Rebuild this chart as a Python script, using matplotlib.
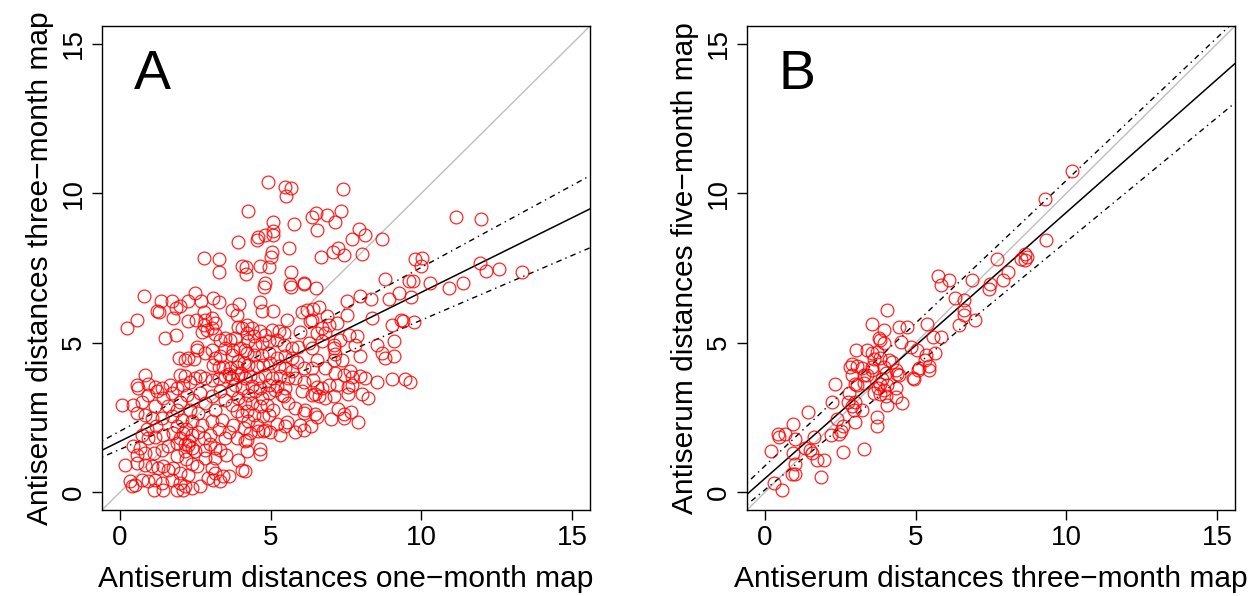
import matplotlib
matplotlib.use("Agg")
import matplotlib.pyplot as plt
import numpy as np

plt.rcParams['font.family'] = ['Liberation Sans', 'DejaVu Sans']

# ---------------- Panel A data (one-month vs three-month) ----------------
a_pts = [
    (4.26,9.42),(3.91,8.36),(2.78,7.85),(3.27,7.80),(3.30,7.36),(4.04,7.57),(4.18,7.53),(4.18,7.29),
    (4.91,10.39),(5.46,10.22),(5.68,10.19),(5.50,9.92),(7.39,10.13),(6.37,9.22),(6.50,9.35),(6.87,9.27),
    (7.14,9.05),(7.34,9.42),(5.07,9.05),(5.09,8.74),(5.78,8.97),(6.54,8.76),(4.57,8.55),(4.54,8.44),
    (4.82,8.59),(5.09,8.61),(7.92,8.81),(7.70,8.46),(8.12,8.59),(8.69,8.48),(5.61,8.18),(5.04,8.03),
    (5.02,7.88),(6.68,7.87),(7.07,8.03),(7.25,8.18),(7.45,7.94),(8.03,7.96),(4.63,7.57),(4.95,7.55),
    (5.68,7.35),(6.09,6.99),(4.82,6.99),(5.65,6.97),(8.78,7.13),
    (11.15,9.20),(11.99,9.14),(9.78,7.80),(10.02,7.85),(10.00,7.56),(11.96,7.66),(12.15,7.40),(12.57,7.47),
    (13.35,7.35),(9.58,7.05),(9.74,7.05),(10.30,6.99),(11.40,6.99),
    (10.93,6.82),(8.92,6.46),(9.27,6.66),(9.67,6.54),(9.03,5.60),(9.34,5.76),(9.38,5.71),(9.77,5.68),
    (9.08,5.07),(9.08,4.57),(8.80,4.48),(9.03,3.79),(9.45,3.79),(9.63,3.68),
    (7.09,3.20),(7.58,3.28),(8.03,3.28),(8.23,3.14),(7.25,2.78),(7.45,2.61),(7.45,2.47),(7.67,2.68),
    (7.90,2.36),(7.01,2.45),(6.53,2.50),(6.48,2.61),(6.35,2.20),(6.12,2.08),(5.81,2.01),(5.98,2.25),
    (5.54,2.36),(5.48,2.20),(5.21,2.27),(5.32,1.92),(4.93,2.59),(4.76,2.03),(4.98,2.01),(4.65,1.44),
    (4.65,1.27),(4.21,1.36),(6.59,3.20),(6.48,3.28),(6.37,3.25),(6.81,3.14),(6.04,3.39),(5.43,3.20),
    (5.59,2.98),(5.81,2.81),(6.09,2.64),(6.15,2.75),(4.87,2.92),(5.09,2.75),(4.15,0.69),
    (4.26,3.26),(4.48,3.37),(4.70,3.15),(4.93,3.31),(5.15,3.42),(5.37,3.26),(4.37,2.98),(4.65,2.87),
    (4.21,2.70),(4.43,2.59),(4.76,2.53),(4.26,2.37),(4.54,2.25),(4.81,2.09),(4.32,1.97),(4.59,2.03),(4.21,1.75),
    (0.81,6.55),(0.22,5.48),(0.55,5.76),(1.36,6.40),(1.72,6.38),(1.22,6.06),(1.30,6.04),(1.85,6.15),
    (2.00,6.24),(2.27,6.40),(2.49,6.66),(2.69,6.40),(1.77,5.82),(1.50,5.15),(1.85,5.26),(3.10,6.49),
    (3.27,6.35),(2.77,6.02),(2.25,5.71),(2.51,5.76),(2.82,5.76),(3.05,5.82),(3.16,5.65),(3.71,6.10),
    (3.88,5.93),(3.95,6.29),(3.93,5.54),(4.04,5.48),(2.77,5.60),(2.88,5.43),(2.71,5.37),(3.05,5.48),
    (3.16,5.28),(3.32,5.09),(3.49,5.15),(3.65,5.09),(3.82,5.15),(2.55,4.87),(2.55,4.76),(2.82,4.65),
    (3.05,4.76),(3.16,4.48),(3.32,4.54),(1.96,4.48),(2.16,4.42),(2.27,4.48),(2.44,4.46),(3.49,4.82),
    (3.76,4.76),(3.99,4.82),(4.15,4.76),(3.10,4.26),(3.27,4.17),(3.43,4.20),(3.65,4.15),(3.88,4.20),
    (4.10,4.31),(0.83,3.92),(0.55,3.57),(0.94,3.61),(1.16,3.53),(1.39,3.48),(1.66,3.57),(1.88,3.48),
    (2.10,3.59),(2.33,3.70),(2.49,3.81),(2.66,3.87),(1.99,3.92),(2.16,3.87),(2.82,3.81),(3.05,3.76),
    (3.27,3.81),(3.49,3.87),(3.71,3.81),(3.93,3.92),(4.15,3.81),
    (3.70,4.60),(3.90,4.40),(3.60,3.95),(4.00,4.00),(3.80,3.60),(4.05,3.50),(3.70,3.40),
    (4.79,6.88),(5.68,6.85),(6.09,6.96),(6.51,6.82),(4.65,6.35),(4.71,6.06),(5.09,6.06),(5.54,5.76),
    (6.04,6.04),(6.20,6.10),(6.42,6.13),(6.59,6.21),(6.31,5.71),(6.37,5.76),(6.87,5.91),(7.53,6.40),
    (7.97,6.55),(8.34,6.46),(8.36,5.82),(7.53,5.93),(7.20,5.65),(6.92,5.60),(6.70,5.48),(5.98,5.37),
    (6.53,5.32),(6.81,5.32),(6.70,5.04),(7.09,4.93),(7.31,5.09),(7.59,5.26),(7.86,5.21),(7.81,4.93),
    (6.26,4.98),(6.37,4.82),(7.09,4.82),(7.14,4.62),(8.53,4.93),(8.69,4.65),(6.53,4.42),(7.09,4.42),
    (7.37,4.42),(7.97,4.54),(6.09,4.15),(6.37,4.15),(6.81,4.15),(7.14,3.98),(7.42,3.92),(7.64,4.04),
    (7.70,3.84),(7.97,3.87),(8.14,3.81),(8.53,3.70),(7.20,3.59),(7.58,3.53),(7.70,3.59),(5.81,3.81),
    (6.09,3.70),(6.42,3.76),(6.53,3.53),(6.92,3.59),(6.70,3.48),
    (4.21,5.60),(4.37,5.49),(4.21,5.32),(4.43,5.21),(4.65,5.38),(4.82,5.27),(5.04,5.43),(5.26,5.38),
    (5.43,5.32),(4.26,5.04),(4.48,4.93),(4.70,4.99),(4.93,5.04),(5.20,5.10),(5.43,4.93),(5.70,4.82),
    (5.92,4.87),(4.21,4.65),(4.43,4.60),(4.70,4.60),(4.93,4.65),(5.20,4.48),(5.48,4.54),(5.70,4.48),
    (5.87,4.37),(4.26,4.26),(4.54,4.21),(4.76,4.26),(4.98,4.32),(5.26,4.21),(5.48,4.15),(5.70,4.04),
    (4.32,3.87),(4.59,3.82),(4.82,3.93),(5.04,3.82),(5.32,3.87),(5.59,3.82),(4.37,3.54),(4.65,3.48),
    (4.93,3.59),(5.20,3.54),(5.48,3.48),
    (0.05,2.92),(0.44,2.92),(0.72,3.03),(0.94,3.26),(1.22,3.37),(1.44,3.15),(1.71,3.31),(1.99,3.03),
    (2.21,3.26),(2.43,3.09),(2.66,3.31),(2.82,2.98),(3.04,3.20),(3.32,3.37),(3.49,3.09),(3.71,2.92),
    (3.93,3.15),(4.15,2.98),(0.61,3.48),(1.16,2.87),(1.60,2.87),(1.88,2.76),(2.32,2.76),(2.60,2.64),
    (3.15,2.76),(3.87,2.70),(4.04,2.59),
    (0.55,2.64),(0.83,2.59),(1.05,2.48),(1.38,2.48),(1.71,2.53),(2.05,2.42),(2.38,2.37),(2.71,2.25),
    (3.04,2.37),(3.38,2.42),(3.76,2.25),(4.10,2.14),(0.72,1.92),(0.94,1.81),(1.16,1.86),(1.44,1.92),
    (1.77,1.97),(2.10,1.97),(2.27,1.58),(2.38,1.47),(2.16,1.36),(2.49,1.36),(2.82,1.42),(3.15,1.47),
    (3.32,1.42),(3.49,1.81),(3.87,1.81),(4.15,1.70),(0.44,1.53),(0.66,1.47),(0.55,1.25),(0.83,1.31),
    (1.11,1.31),(1.38,1.42),(1.60,1.53),(1.88,1.64),(2.77,1.81),(2.99,1.92),
    (0.16,0.92),(0.55,0.97),(0.83,0.92),(1.05,0.86),(1.27,0.80),(1.44,0.86),(1.60,0.75),(1.77,0.80),
    (1.99,0.64),(2.27,0.58),(2.55,0.86),(3.04,0.80),(3.15,0.64),(3.43,0.53),(3.60,0.53),(2.82,1.14),
    (3.15,1.14),(3.93,1.08),(4.04,0.75),(0.33,0.36),(0.50,0.25),(0.72,0.41),(0.94,0.36),(1.16,0.41),
    (1.38,0.30),(1.71,0.41),(1.99,0.30),(2.16,0.19),(2.38,0.14),(2.66,0.19),(2.93,0.47),(3.10,0.41),
    (3.32,0.36),(1.11,0.08),(1.44,0.08),(1.88,0.08),(2.10,0.08),(0.39,0.19),
    (1.90,2.20),(2.20,2.10),(2.40,1.90),(2.00,1.80),(2.60,2.00),(3.30,2.10),(3.60,2.00),(3.00,1.60),
    (2.20,1.10),(1.90,1.20),(2.40,0.95),(3.50,1.25),(1.20,2.20),(0.90,2.10),(2.30,1.70),(2.15,1.60),
]
a_x = [p[0] for p in a_pts]
a_y = [p[1] for p in a_pts]

# regression and confidence lines (intercept, slope)
a_fit = (1.70, 0.4986)
a_upper = (2.04, 0.548)
a_lower = (1.43, 0.4325)

# ---------------- Panel B data (three-month vs five-month) ----------------
b_pts = [
    (2.33,3.61),(1.44,2.69),(0.94,2.27),(0.44,1.94),(0.47,1.83),(0.67,1.96),(0.98,1.79),(0.20,1.38),
    (0.92,1.32),(1.00,0.94),(0.89,0.62),(0.98,0.59),(0.28,0.31),(0.56,0.07),(1.61,1.85),(1.33,1.46),
    (1.48,1.41),(1.56,1.32),(1.72,1.07),(1.94,1.09),(1.87,0.51),(2.58,1.33),(3.28,1.44),(2.20,1.91),
    (2.44,1.94),(2.58,2.21),(2.53,2.05),(2.39,2.46),(2.98,2.35),(3.72,2.52),(3.72,2.22),(2.22,3.02),
    (2.80,3.32),(2.76,3.02),(2.89,2.88),(2.94,2.76),(3.00,3.02),(3.22,2.74),(2.89,3.91),(3.00,3.63),
    (3.06,3.58),(3.28,3.66),(3.39,3.91),(3.56,4.08),(3.61,3.32),(3.76,3.47),(3.83,3.28),(3.94,3.41),
    (4.06,3.58),(4.00,3.21),(3.89,3.77),(3.80,3.63),(4.06,2.91),(4.33,3.50),(4.33,3.19),(4.56,2.99),
    (4.39,3.95),(4.94,3.80),(5.09,4.08),(5.44,4.08),
    (5.74,7.22),(6.11,7.11),(5.83,6.92),(6.87,7.09),(7.48,6.98),(7.44,6.81),(7.89,7.11),(8.06,7.37),
    (4.06,6.09),(3.56,5.64),(3.94,5.42),(3.78,5.17),(3.83,5.08),(3.94,4.99),(4.44,5.51),(4.70,5.53),
    (5.39,5.62),(6.30,6.51),(6.59,6.42),(6.61,6.09),(6.59,5.92),(6.97,5.75),(6.44,5.59),(5.56,5.20),
    (5.83,5.20),(4.52,5.03),(4.83,4.84),(5.03,4.77),(5.33,4.58),(5.63,4.66),(5.30,4.42),(5.44,4.21),
    (5.11,4.14),(3.03,4.75),(3.39,4.75),(3.56,4.64),(3.72,4.69),(3.83,4.50),(3.61,4.44),(4.11,4.42),
    (4.22,4.36),(2.89,4.30),(3.06,4.21),(2.83,4.17),(3.22,4.14),(3.56,4.19),(3.94,4.19),(4.00,3.97),
    (4.33,4.08),(4.44,3.91),(4.92,3.83),(3.28,3.91),
    (10.19,10.74),(9.28,9.82),(9.31,8.45),(7.70,7.81),(8.50,7.81),(8.63,7.96),(8.63,7.76),(8.70,7.87),
]
b_x = [p[0] for p in b_pts]
b_y = [p[1] for p in b_pts]

b_fit = (0.46, 0.89)
b_upper = (0.88, 0.955)
b_lower = (0.08, 0.83)

ticks = [0, 5, 10, 15]
lims = (-0.6, 15.6)

W, H = 1251, 596
fig = plt.figure(figsize=(W / 100, H / 100), dpi=100)

def make_panel(left_px, xs, ys, fit, up, lo, letter, xlabel, ylabel):
    ax = fig.add_axes([left_px / W, 86 / H, 488 / W, 484 / H])
    ax.set_xlim(*lims)
    ax.set_ylim(*lims)
    ax.axline((0, 0), slope=1, color='#BEBEBE', lw=1.0, zorder=1)
    ax.axline((0, fit[0]), slope=fit[1], color='black', lw=1.1, zorder=2)
    for p in (up, lo):
        ax.axline((0, p[0]), slope=p[1], color='black', lw=1.0,
                  dashes=(1, 3, 4, 3), zorder=2)
    ax.plot(xs, ys, linestyle='none', marker='o', ms=9.2, mfc='none',
            mec='#FF0000', mew=0.9, alpha=0.85, zorder=3)
    ax.set_xticks(ticks)
    ax.set_yticks(ticks)
    ax.tick_params(direction='out', length=7, width=1, labelsize=20, pad=4)
    for lab in ax.get_yticklabels():
        lab.set_rotation(90)
        lab.set_va('center')
    ax.set_xlabel(xlabel, fontsize=21.5, labelpad=10)
    ax.set_ylabel(ylabel, fontsize=21.5, labelpad=5)
    for s in ax.spines.values():
        s.set_linewidth(1.0)
    ax.text(1.06, 13.95, letter, fontsize=40, ha='center', va='center')
    return ax

make_panel(102, a_x, a_y, a_fit, a_upper, a_lower, 'A',
           'Antiserum distances one\u2212month map',
           'Antiserum distances three\u2212month map')
make_panel(747, b_x, b_y, b_fit, b_upper, b_lower, 'B',
           'Antiserum distances three\u2212month map',
           'Antiserum distances five\u2212month map')

fig.savefig('out.png', dpi=100)
